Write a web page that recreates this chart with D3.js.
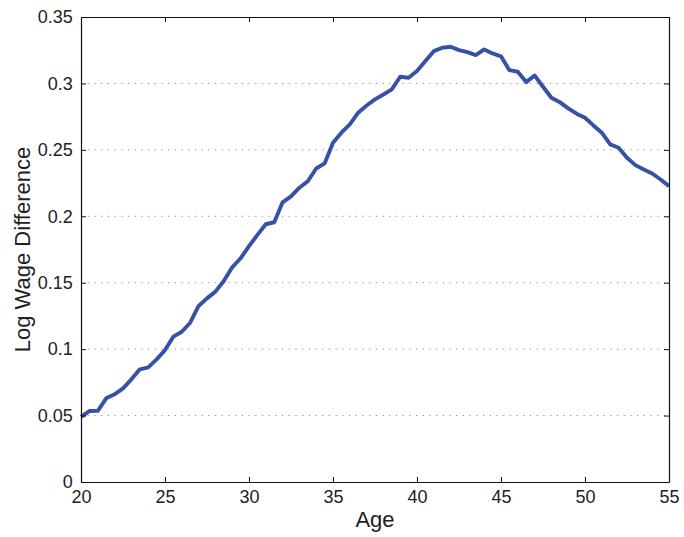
<!DOCTYPE html>
<html>
<head>
<meta charset="utf-8">
<script src="https://cdn.jsdelivr.net/npm/d3@7.9.0/dist/d3.min.js"></script>
<style>
  body { margin: 0; background: #fff; }
  svg { display: block; font-family: "Liberation Sans", Arial, sans-serif; }
</style>
</head>
<body>
<svg id="chart" width="684" height="537"></svg>
<script>
// age on the x axis, half-year steps
const ages = [20, 20.5, 21, 21.5, 22, 22.5, 23, 23.5, 24, 24.5,
  25, 25.5, 26, 26.5, 27, 27.5, 28, 28.5, 29, 29.5,
  30, 30.5, 31, 31.5, 32, 32.5, 33, 33.5, 34, 34.5,
  35, 35.5, 36, 36.5, 37, 37.5, 38, 38.5, 39, 39.5,
  40, 40.5, 41, 41.5, 42, 42.5, 43, 43.5, 44, 44.5,
  45, 45.5, 46, 46.5, 47, 47.5, 48, 48.5, 49, 49.5,
  50, 50.5, 51, 51.5, 52, 52.5, 53, 53.5, 54, 54.5, 55];

const logWageDiff = [0.049, 0.0534, 0.0535, 0.063, 0.066, 0.0705, 0.0773, 0.0848, 0.0863, 0.0923,
  0.0993, 0.1094, 0.1131, 0.1199, 0.1325, 0.1382, 0.1433, 0.1513, 0.1616, 0.1684,
  0.1775, 0.186, 0.194, 0.1955, 0.2105, 0.215, 0.2215, 0.2264, 0.236, 0.2398,
  0.2553, 0.2629, 0.2691, 0.278, 0.2834, 0.288, 0.2917, 0.2955, 0.305, 0.3043,
  0.3093, 0.3168, 0.3243, 0.3269, 0.3276, 0.3251, 0.3236, 0.3213, 0.3256, 0.3226,
  0.3204, 0.310, 0.3088, 0.301, 0.306, 0.2975, 0.2892, 0.2859, 0.2812, 0.2772,
  0.2742, 0.2684, 0.2629, 0.2541, 0.2516, 0.2441, 0.2385, 0.2352, 0.2322, 0.2277, 0.2227];

const xTicks = [20, 25, 30, 35, 40, 45, 50, 55];
const yTicks = [0, 0.05, 0.1, 0.15, 0.2, 0.25, 0.3, 0.35];
const yTickLabels = ['0', '0.05', '0.1', '0.15', '0.2', '0.25', '0.3', '0.35'];

const margin = { top: 17, right: 15, bottom: 55, left: 81 };
const width = 684, height = 537;
const plotW = width - margin.left - margin.right;
const plotH = height - margin.top - margin.bottom;

const svg = d3.select('#chart');
const g = svg.append('g').attr('transform', `translate(${margin.left},${margin.top})`);

const x = d3.scaleLinear().domain([20, 55]).range([0, plotW]);
const y = d3.scaleLinear().domain([0, 0.35]).range([plotH, 0]);

// dotted horizontal grid
g.selectAll('.grid')
  .data(yTicks.filter(d => d > 0 && d < 0.35))
  .enter().append('line')
  .attr('x1', 0).attr('x2', plotW)
  .attr('y1', d => y(d)).attr('y2', d => y(d))
  .attr('stroke', '#8a8a8a')
  .attr('stroke-width', 1)
  .attr('stroke-dasharray', '1.2,5.5');

// the curve
const line = d3.line()
  .x((d, i) => x(ages[i]))
  .y(d => y(d));

g.append('path')
  .datum(logWageDiff)
  .attr('d', line)
  .attr('fill', 'none')
  .attr('stroke', '#3752a5')
  .attr('stroke-width', 3.9)
  .attr('stroke-linejoin', 'round');

// axes, ticks pointing inward like matlab
const axBottom = g.append('g').attr('transform', `translate(0,${plotH})`)
  .call(d3.axisBottom(x).tickValues(xTicks).tickSizeInner(-5).tickSizeOuter(0).tickPadding(10));
const axTop = g.append('g')
  .call(d3.axisTop(x).tickValues(xTicks).tickSizeInner(-5).tickSizeOuter(0).tickFormat(''));
const axLeft = g.append('g')
  .call(d3.axisLeft(y).tickValues(yTicks).tickSizeInner(-5).tickSizeOuter(0).tickPadding(10)
    .tickFormat((d, i) => yTickLabels[i]));
const axRight = g.append('g').attr('transform', `translate(${plotW},0)`)
  .call(d3.axisRight(y).tickValues(yTicks).tickSizeInner(-5).tickSizeOuter(0).tickFormat(''));

[axBottom, axTop, axLeft, axRight].forEach(a => {
  a.select('.domain').attr('stroke', '#111').attr('stroke-width', 1.2);
  a.selectAll('.tick line').attr('stroke', '#111');
  a.selectAll('text').attr('font-size', 18).attr('fill', '#222')
    .attr('font-family', '"Liberation Sans", Arial, sans-serif');
});
axBottom.selectAll('text').attr('dy', '0.6em');
axLeft.selectAll('text').attr('dx', '0.1em');

// axis labels
svg.append('text')
  .attr('x', margin.left + plotW / 2)
  .attr('y', 527)
  .attr('text-anchor', 'middle')
  .attr('font-size', 22)
  .attr('fill', '#222')
  .text('Age');

svg.append('text')
  .attr('transform', `translate(30,${margin.top + plotH / 2}) rotate(-90)`)
  .attr('text-anchor', 'middle')
  .attr('font-size', 22)
  .attr('fill', '#222')
  .text('Log Wage Difference');
</script>
</body>
</html>
